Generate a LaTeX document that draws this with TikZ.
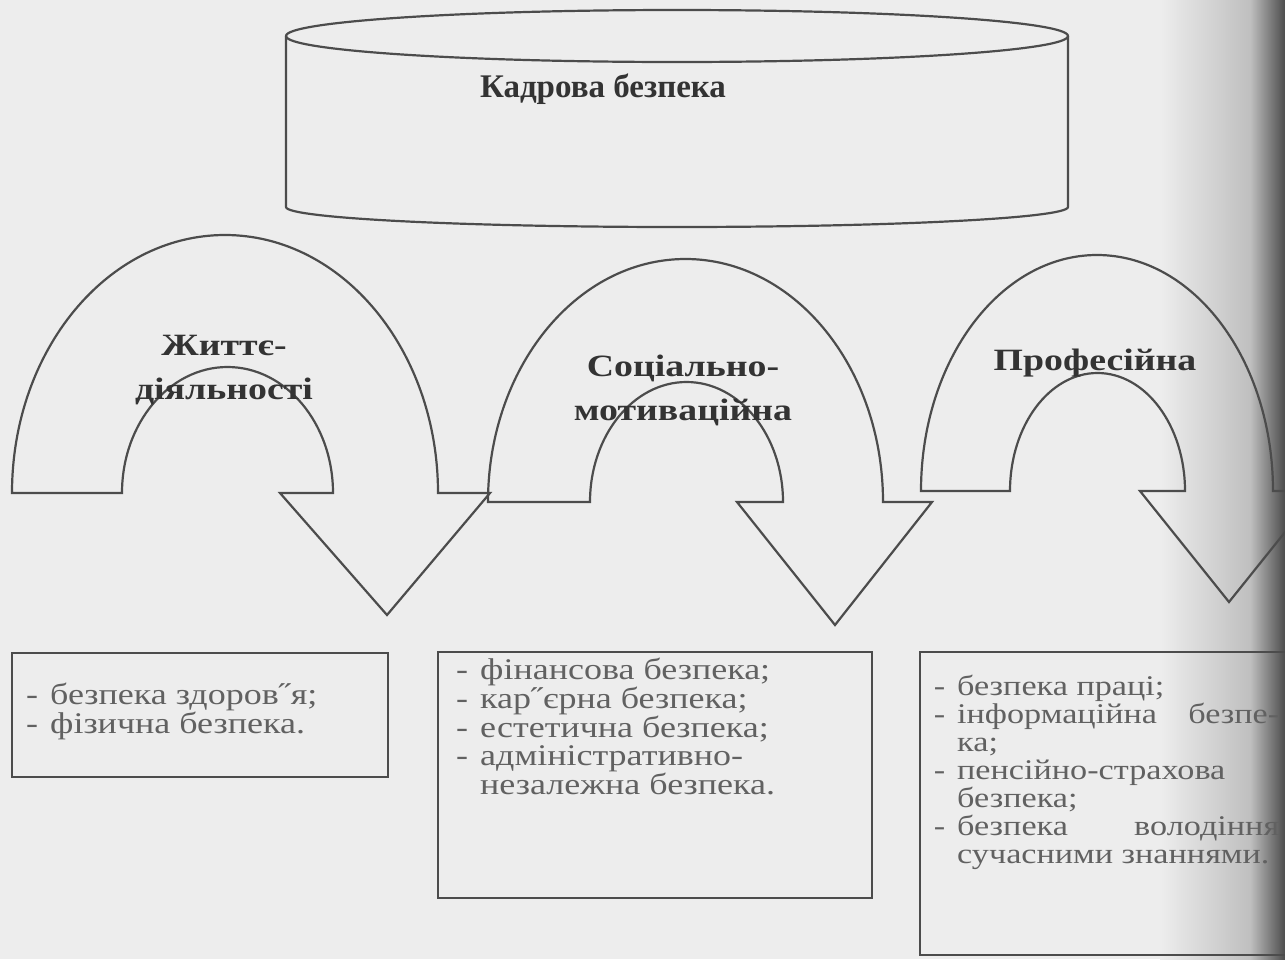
\documentclass[tikz,border=0pt]{standalone}
\usepackage{fontspec}
\setmainfont{Liberation Serif}
\newfontfamily\labelfont{Liberation Serif}[FakeStretch=1.22]
\newfontfamily\itemfont{Liberation Serif}[FakeStretch=1.2]

\definecolor{paper}{gray}{0.93}
\definecolor{ink}{gray}{0.3}
\definecolor{txt}{gray}{0.2}
\newcommand{\dashitem}{\llap{-\hspace{12pt}}}

\begin{document}
\begin{tikzpicture}[x=1pt,y=-1pt,
    shape line/.style={draw=ink, line width=2.2pt},
    title/.style={font=\fontsize{33}{40}\selectfont\bfseries, text=txt, inner sep=0pt},
    arc label/.style={font=\labelfont\fontsize{31}{44}\selectfont\bfseries, text=txt, align=center, inner sep=0pt},
    item text/.style={font=\itemfont\fontsize{30}{27.5}\selectfont, text=txt!75!paper, inner sep=0pt}]
	\clip (0,0) rectangle (1285,959);
	\fill[paper] (0,0) rectangle (1285,959);
	\shade[left color=paper, right color=gray!50] (1160,0) rectangle (1250,959);
	\shade[left color=gray!50, right color=black!70] (1250,0) rectangle (1285,959);

	\draw[shape line] (677,36) ellipse [x radius=391, y radius=26];
	\draw[shape line] (286,36) -- (286,207) arc [start angle=180, end angle=0, x radius=391, y radius=20] -- (1068,36);
	\node[title, anchor=base] (kadry) at (603,97) {Кадрова безпека};

	\draw[shape line] (12,493) arc [start angle=180, end angle=360, x radius=213, y radius=258]
		-- (490,493) -- (387,615) -- (280,493) -- (333,493)
		arc [start angle=360, end angle=180, x radius=105.5, y radius=126] -- cycle;
	\draw[shape line] (488,502) arc [start angle=180, end angle=360, x radius=197.5, y radius=243]
		-- (932,502) -- (835,625) -- (737,502) -- (783,502)
		arc [start angle=360, end angle=180, x radius=96.5, y radius=120] -- cycle;
	\draw[shape line] (921,491) arc [start angle=180, end angle=360, x radius=176, y radius=236]
		-- (1318,491) -- (1229,602) -- (1140,491) -- (1185,491)
		arc [start angle=360, end angle=180, x radius=87.5, y radius=118] -- cycle;

	\node[arc label] (zhyttie) at (224,370) {Життє-\\діяльності};
	\node[arc label] (sotsial) at (683,390) {Соціально-\\мотиваційна};
	\node[arc label, anchor=base] (profes) at (1095,370) {Професійна};

	\draw[shape line] (12,653) rectangle (388,777);
	\draw[shape line] (438,652) rectangle (872,898);
	\draw[shape line] (920,652) rectangle (1300,955);

	\node[item text, anchor=base west, align=left] (zdorovia) at (50,733)
		{\dashitem безпека здоров˝я;\\\dashitem фізична безпека.};
	\node[item text, anchor=base west, align=left] (finansy) at (480,794)
		{\dashitem фінансова безпека;\\\dashitem кар˝єрна безпека;\\\dashitem естетична безпека;\\\dashitem адміністративно-\\незалежна безпека.};
	\node[item text, font=\itemfont\fontsize{28.5}{28}\selectfont, anchor=base west, text width=322pt, align=justify] (pratsia) at (957,695)
		{\dashitem безпека праці;\\\dashitem інформаційна безпе-\linebreak ка;\\\dashitem пенсійно-страхова\\безпека;\\\dashitem безпека володіння\linebreak сучасними знаннями.};
\end{tikzpicture}
\end{document}
